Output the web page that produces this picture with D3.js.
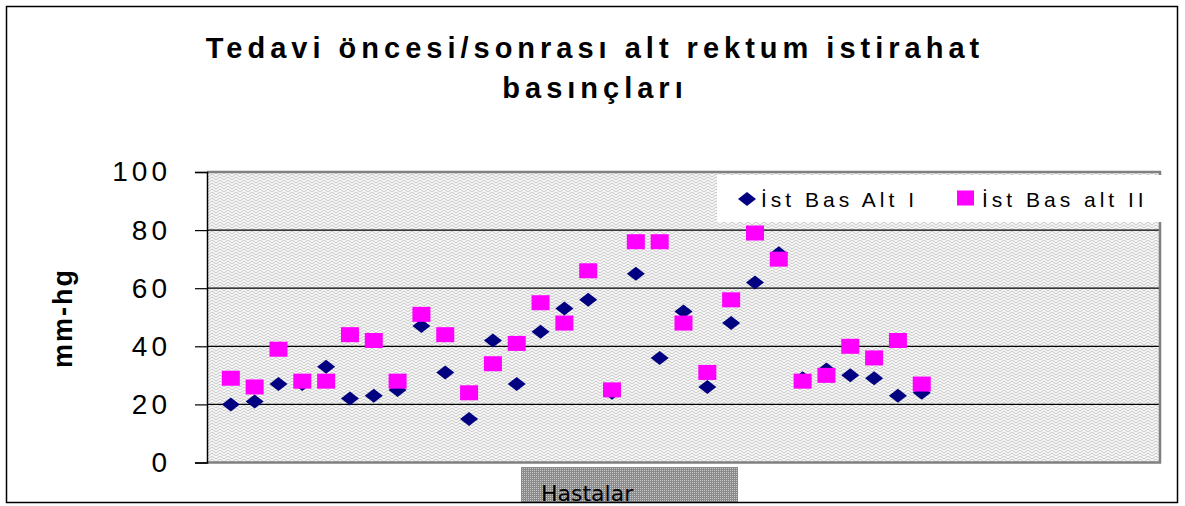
<!DOCTYPE html>
<html>
<head>
<meta charset="utf-8">
<script src="https://cdn.jsdelivr.net/npm/d3@7"></script>
<style>
  body { margin: 0; background: #fff; }
  svg { display: block; }
</style>
</head>
<body>
<div id="graph"></div>
<script>
"use strict";

var width = 1185,
    height = 506;

// patients 1..30 on a 0..40 axis
const patients = d3.range(1, 31);
const altI  = [20, 21, 27, 27, 33, 22, 23, 25, 47, 31, 15, 42, 27, 45, 53, 56, 24, 65, 36, 52, 26, 48, 62, 72, 29, 32, 30, 29, 23, 24];
const altII = [29, 26, 39, 28, 28, 44, 42, 28, 51, 44, 24, 34, 41, 55, 48, 66, 25, 76, 76, 48, 31, 56, 79, 70, 28, 30, 40, 36, 42, 27];
const yTicks = [0, 20, 40, 60, 80, 100];
const seriesNames = ["İst Bas Alt I", "İst Bas alt II"];
const titleLines = ["Tedavi öncesi/sonrası alt rektum istirahat", "basınçları"];

const plot = { left: 207, right: 1160, top: 172, bottom: 462.5 };

let svg = d3.select("#graph")
    .append("svg")
    .attr("width", width)
    .attr("height", height);

let defs = svg.append("defs");

// light grey weave behind the points
let weave = defs.append("pattern")
    .attr("id", "weave")
    .attr("width", 8)
    .attr("height", 6)
    .attr("patternUnits", "userSpaceOnUse");
weave.append("rect").attr("width", 8).attr("height", 6).attr("fill", "#f6f6f6");
weave.append("path")
    .attr("d", "M0,3 L4,0 L8,3 M0,6 L4,3 L8,6")
    .attr("fill", "none")
    .attr("stroke", "#c6c6c6")
    .attr("stroke-width", 1);

// dotted grey behind the x label
let dots = defs.append("pattern")
    .attr("id", "dots")
    .attr("width", 2)
    .attr("height", 2)
    .attr("patternUnits", "userSpaceOnUse");
dots.append("rect").attr("width", 2).attr("height", 2).attr("fill", "#8a8a8a");
dots.append("rect").attr("width", 1).attr("height", 1).attr("fill", "#c8c8c8");

let x = d3.scaleLinear().domain([0, 40]).range([plot.left, plot.right]);
let y = d3.scaleLinear().domain([0, 100]).range([plot.bottom, plot.top]);

// plot background
svg.append("rect")
    .attr("x", plot.left)
    .attr("y", plot.top)
    .attr("width", plot.right - plot.left)
    .attr("height", plot.bottom - plot.top)
    .attr("fill", "url(#weave)");

// gridlines
svg.append("g")
    .selectAll("line")
    .data(yTicks.filter(d => d > 0 && d < 100))
    .enter()
    .append("line")
    .attr("x1", plot.left)
    .attr("x2", plot.right)
    .attr("y1", d => y(d))
    .attr("y2", d => y(d))
    .attr("stroke", "#000")
    .attr("stroke-width", 1.2);

// grey frame (top, right, bottom)
svg.append("path")
    .attr("d", `M${plot.left},${plot.top} H${plot.right} V${plot.bottom} H${plot.left}`)
    .attr("fill", "none")
    .attr("stroke", "#808080")
    .attr("stroke-width", 2.5);

// y axis
let yAxis = svg.append("g")
    .attr("transform", `translate(${plot.left},0)`)
    .call(d3.axisLeft(y).tickValues(yTicks).tickSize(12).tickPadding(24));
yAxis.select(".domain").attr("stroke", "#000").attr("stroke-width", 1.5);
yAxis.selectAll(".tick line").attr("stroke", "#000").attr("stroke-width", 1.2);
yAxis.selectAll("text")
    .attr("font-family", "'Liberation Sans', Arial, sans-serif")
    .attr("font-size", 28)
    .attr("letter-spacing", 4)
    .attr("fill", "#000");

svg.append("text")
    .attr("transform", "translate(72,318) rotate(-90)")
    .attr("text-anchor", "middle")
    .attr("font-family", "'Liberation Sans', Arial, sans-serif")
    .attr("font-weight", "bold")
    .attr("font-size", 27)
    .attr("letter-spacing", 2)
    .text("mm-hg");

// points
const diamond = "M-9,0 L0,-7 L9,0 L0,7 Z";

svg.append("g")
    .selectAll("path")
    .data(patients)
    .enter()
    .append("path")
    .attr("d", diamond)
    .attr("transform", (d, i) => `translate(${x(d)},${y(altI[i])})`)
    .attr("fill", "#000080");

svg.append("g")
    .selectAll("rect")
    .data(patients)
    .enter()
    .append("rect")
    .attr("x", d => x(d) - 9)
    .attr("y", (d, i) => y(altII[i]) - 7.5)
    .attr("width", 18)
    .attr("height", 15)
    .attr("fill", "#ff00ff");

// legend
let legend = svg.append("g");
legend.append("rect")
    .attr("x", 717)
    .attr("y", 175)
    .attr("width", 446)
    .attr("height", 47)
    .attr("fill", "#fff");
legend.append("path")
    .attr("d", diamond)
    .attr("transform", "translate(747,199)")
    .attr("fill", "#000080");
legend.append("rect")
    .attr("x", 957)
    .attr("y", 190.5)
    .attr("width", 17)
    .attr("height", 15)
    .attr("fill", "#ff00ff");
legend.selectAll("text")
    .data(seriesNames)
    .enter()
    .append("text")
    .attr("x", (d, i) => i == 0 ? 761 : 982)
    .attr("y", 206.5)
    .attr("font-family", "'Liberation Sans', Arial, sans-serif")
    .attr("font-size", 21)
    .attr("letter-spacing", 4)
    .attr("fill", "#000")
    .text(d => d);

// title
svg.append("g")
    .selectAll("text")
    .data(titleLines)
    .enter()
    .append("text")
    .attr("x", 595)
    .attr("y", (d, i) => 58 + i * 40)
    .attr("text-anchor", "middle")
    .attr("font-family", "'Liberation Sans', Arial, sans-serif")
    .attr("font-weight", "bold")
    .attr("font-size", 29)
    .attr("letter-spacing", 5)
    .text(d => d);

// x label box, cut by the outer frame
svg.append("rect")
    .attr("x", 521)
    .attr("y", 467)
    .attr("width", 217)
    .attr("height", 36)
    .attr("fill", "url(#dots)");
svg.append("text")
    .attr("x", 541)
    .attr("y", 501)
    .attr("font-family", "'DejaVu Sans', Verdana, sans-serif")
    .attr("font-size", 22)
    .attr("fill", "#000")
    .text("Hastalar");

// outer frame
svg.append("rect")
    .attr("x", 6.5)
    .attr("y", 6.5)
    .attr("width", 1171)
    .attr("height", 496)
    .attr("fill", "none")
    .attr("stroke", "#000")
    .attr("stroke-width", 1.5);
</script>
</body>
</html>
